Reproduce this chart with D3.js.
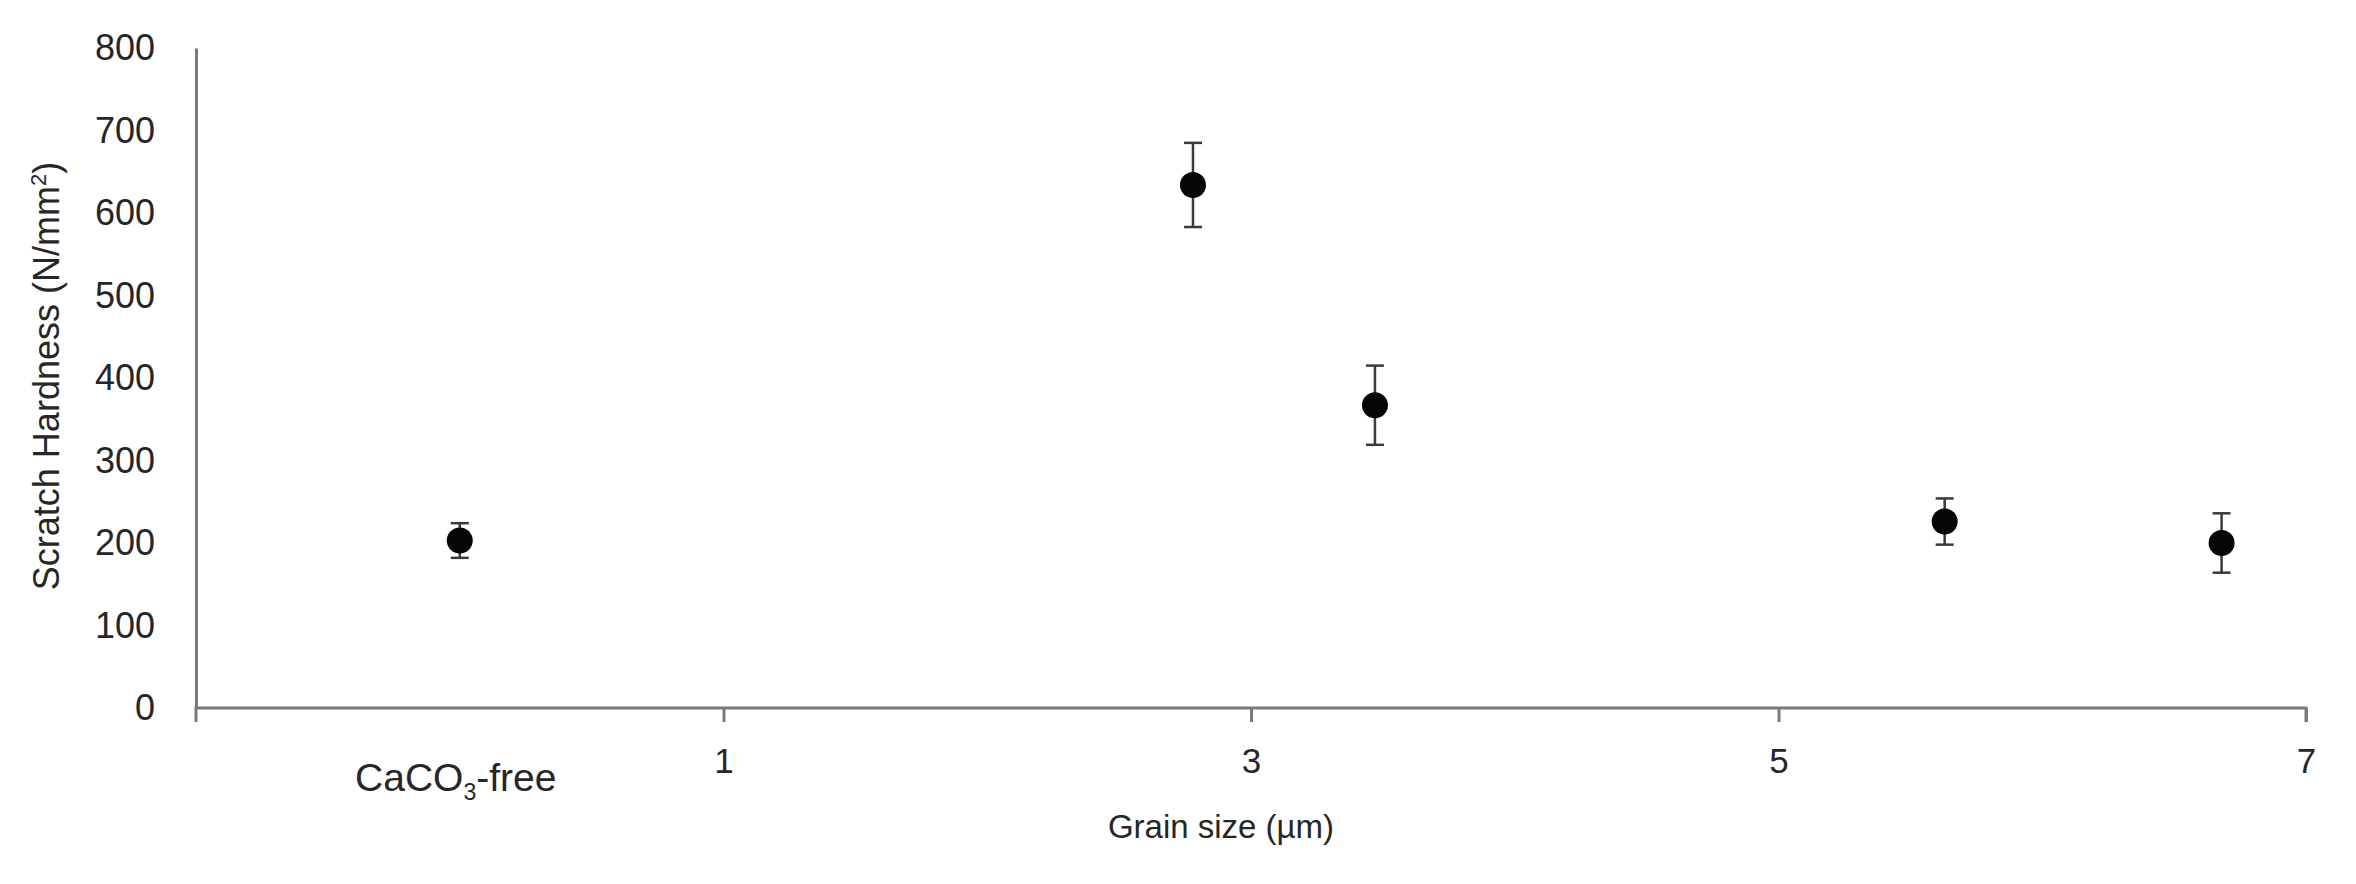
<!DOCTYPE html>
<html>
<head>
<meta charset="utf-8">
<script src="https://cdn.jsdelivr.net/npm/d3@7"></script>
<style>
  body { margin: 0; background: #fff; }
  text { font-family: "Liberation Sans", Arial, sans-serif; fill: #262626; }
</style>
</head>
<body>
<div id="chart"></div>
<script>
// grain size (um), 0 = CaCO3-free reference
const grainSize = [0, 2.78, 3.47, 5.63, 6.68];
const hardness = [203, 634, 367, 226, 200];
const hardnessErr = [21, 51, 48, 28, 36];
const xTicks = [1, 3, 5, 7];
const yTicks = [0, 100, 200, 300, 400, 500, 600, 700, 800];

(function () {
  var margin = { top: 48, right: 50, bottom: 176, left: 196 };
  var width = 2356 - margin.left - margin.right,
    height = 884 - margin.top - margin.bottom;

  var svg = d3
    .select("#chart")
    .append("svg")
    .attr("width", 2356)
    .attr("height", 884)
    .append("g")
    .attr("transform", "translate(" + margin.left + "," + margin.top + ")");

  var x = d3.scaleLinear().domain([-1, 7]).range([0, width]);
  var y = d3.scaleLinear().domain([0, 800]).range([height, 0]);

  // x axis
  var xAxis = svg
    .append("g")
    .attr("transform", "translate(0," + height + ")")
    .call(d3.axisBottom(x).tickValues(xTicks).tickSize(14).tickPadding(26).tickFormat(d3.format("d")));
  xAxis.select(".domain").attr("d", "M0,14V0H" + width + "V14");
  xAxis.selectAll("path, line").attr("stroke", "#7a7a7a").attr("stroke-width", 3);
  xAxis.selectAll("text").style("font-size", "35px").attr("fill", "#262626");

  // y axis, no tick marks
  var yAxis = svg.append("g").call(d3.axisLeft(y).tickValues(yTicks).tickSize(0).tickPadding(41));
  yAxis.select(".domain").attr("stroke", "#7a7a7a").attr("stroke-width", 3);
  yAxis.selectAll("text").style("font-size", "36px").attr("fill", "#262626");

  // category label for the reference sample
  var cat = svg
    .append("text")
    .attr("x", x(0) - 4)
    .attr("y", height + 83)
    .attr("text-anchor", "middle")
    .style("font-size", "39px");
  cat.append("tspan").text("CaCO");
  cat.append("tspan").attr("dy", 9).style("font-size", "23px").text("3");
  cat.append("tspan").attr("dy", -9).text("-free");

  // axis titles
  svg
    .append("text")
    .attr("x", x(3) - 30)
    .attr("y", height + 130)
    .attr("text-anchor", "middle")
    .style("font-size", "33px")
    .text("Grain size (\u00b5m)");

  var yt = svg
    .append("text")
    .attr("transform", "translate(" + (-137) + "," + (height / 2 - 2) + ")rotate(-90)")
    .attr("text-anchor", "middle")
    .style("font-size", "36px");
  yt.append("tspan").text("Scratch Hardness (N/mm");
  yt.append("tspan").attr("dy", -13).style("font-size", "22px").text("2");
  yt.append("tspan").attr("dy", 13).text(")");

  var data = grainSize.map(function (g, i) {
    return { g: g, v: hardness[i], e: hardnessErr[i] };
  });

  // error bars
  var err = svg.selectAll(".err").data(data).enter().append("g").attr("class", "err");
  err
    .append("line")
    .attr("x1", (d) => x(d.g))
    .attr("x2", (d) => x(d.g))
    .attr("y1", (d) => y(d.v + d.e))
    .attr("y2", (d) => y(d.v - d.e));
  err
    .append("line")
    .attr("x1", (d) => x(d.g) - 9)
    .attr("x2", (d) => x(d.g) + 9)
    .attr("y1", (d) => y(d.v + d.e))
    .attr("y2", (d) => y(d.v + d.e));
  err
    .append("line")
    .attr("x1", (d) => x(d.g) - 9)
    .attr("x2", (d) => x(d.g) + 9)
    .attr("y1", (d) => y(d.v - d.e))
    .attr("y2", (d) => y(d.v - d.e));
  err.selectAll("line").attr("stroke", "#3a3a3a").attr("stroke-width", 2.5);

  // points
  svg
    .selectAll(".dot")
    .data(data)
    .enter()
    .append("circle")
    .attr("class", "dot")
    .attr("cx", (d) => x(d.g))
    .attr("cy", (d) => y(d.v))
    .attr("r", 13)
    .style("fill", "#050505");
})();
</script>
</body>
</html>
